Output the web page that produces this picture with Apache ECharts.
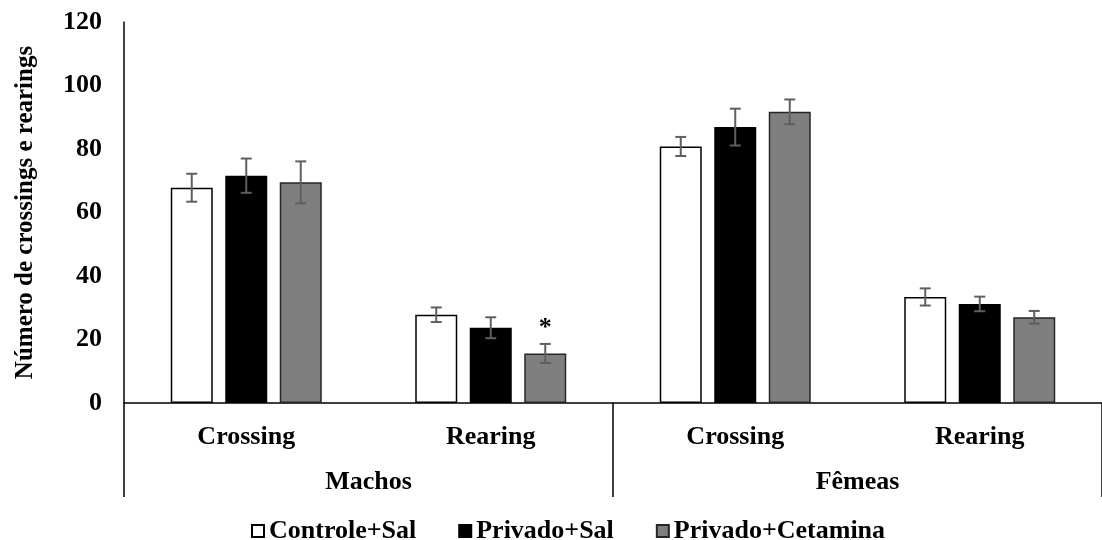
<!DOCTYPE html>
<html>
<head>
<meta charset="utf-8">
<script src="https://cdn.jsdelivr.net/npm/echarts@6/dist/echarts.min.js"></script>
<style>
html,body{margin:0;padding:0;background:#fff;}
#chart{width:1102px;height:540px;}
</style>
</head>
<body>
<div id="chart"></div>
<script>
const categories = ['Crossing', 'Rearing', 'Crossing', 'Rearing'];
const groups = ['Machos', 'Fêmeas'];
const seriesNames = ['Controle+Sal', 'Privado+Sal', 'Privado+Cetamina'];

const controleSal = [67.8, 27.8, 80.8, 33.4];
const controleSalErr = [4.4, 2.3, 3.0, 2.7];
const privadoSal = [71.6, 23.7, 86.9, 31.2];
const privadoSalErr = [5.4, 3.3, 5.8, 2.3];
const privadoCetamina = [69.5, 15.6, 91.7, 27.0];
const privadoCetaminaErr = [6.6, 3.0, 3.9, 2.0];
const privadoCetaminaSig = ['', '*', '', ''];

const yTicks = { min: 0, max: 120, interval: 20 };
const yAxisName = 'Número de crossings e rearings';

const FONT = '"Liberation Serif", "Times New Roman", serif';
const FS = 26;
const BAR_W = 42;
const BAR_GAP = 12.5;

const means = [controleSal, privadoSal, privadoCetamina];
const errs = [controleSalErr, privadoSalErr, privadoCetaminaErr];
const fills = ['#ffffff', '#000000', '#7f7f7f'];
const borders = ['#000000', '#000000', '#262626'];

const chart = echarts.init(document.getElementById('chart'), null, { renderer: 'canvas' });

const barSeries = means.map((vals, i) => ({
  name: seriesNames[i],
  type: 'bar',
  xAxisIndex: 0,
  barWidth: BAR_W,
  barGap: (BAR_GAP / BAR_W * 100) + '%',
  itemStyle: { color: fills[i], borderColor: borders[i], borderWidth: 1.5 },
  emphasis: { disabled: true },
  data: vals.map((v, j) => {
    const sig = i === 2 ? privadoCetaminaSig[j] : '';
    if (!sig) return v;
    return {
      value: v,
      label: {
        show: true, position: 'top', distance: 12, formatter: sig,
        fontFamily: FONT, fontWeight: 'bold', fontSize: FS, color: '#000'
      }
    };
  }),
  z: 2
}));

const errSeries = means.map((vals, i) => ({
  name: 'err' + i,
  type: 'custom',
  xAxisIndex: 0,
  z: 5,
  silent: true,
  data: vals.map((v, j) => [j, v, errs[i][j]]),
  renderItem: function (params, api) {
    const c = api.value(0), m = api.value(1), e = api.value(2);
    const top = api.coord([c, m + e]);
    const bot = api.coord([c, m - e]);
    const x = top[0] + (i - 1) * (BAR_W + BAR_GAP);
    const cap = 5.5;
    const style = { stroke: '#5f5f5f', lineWidth: 2 };
    return {
      type: 'group',
      children: [
        { type: 'line', shape: { x1: x, y1: top[1], x2: x, y2: bot[1] }, style },
        { type: 'line', shape: { x1: x - cap, y1: top[1], x2: x + cap, y2: top[1] }, style },
        { type: 'line', shape: { x1: x - cap, y1: bot[1], x2: x + cap, y2: bot[1] }, style }
      ]
    };
  }
}));

const option = {
  animation: false,
  backgroundColor: '#ffffff',
  grid: { left: 124, right: -2, top: 22, bottom: 137, containLabel: false },
  legend: {
    data: seriesNames,
    top: 513,
    left: 246,
    icon: 'rect',
    itemWidth: 12,
    itemHeight: 12,
    itemGap: 42,
    textStyle: { fontFamily: FONT, fontWeight: 'bold', fontSize: FS, color: '#000' },
    selectedMode: false
  },
  xAxis: [
    {
      type: 'category',
      data: categories,
      position: 'bottom',
      axisLine: { show: true, lineStyle: { color: '#000', width: 1.5 } },
      axisTick: { show: false },
      axisLabel: { interval: 0, margin: 21, fontFamily: FONT, fontWeight: 'bold', fontSize: FS, color: '#000' },
      splitLine: { show: false }
    },
    {
      type: 'category',
      data: groups,
      position: 'bottom',
      axisLine: { show: false },
      axisTick: { show: true, interval: 0, length: 94, lineStyle: { color: '#000', width: 1.5 } },
      axisLabel: { interval: 0, margin: 66, fontFamily: FONT, fontWeight: 'bold', fontSize: FS, color: '#000' },
      splitLine: { show: false }
    }
  ],
  yAxis: {
    type: 'value',
    min: yTicks.min,
    max: yTicks.max,
    interval: yTicks.interval,
    name: yAxisName,
    nameLocation: 'middle',
    nameGap: 86,
    nameRotate: 90,
    nameTextStyle: { fontFamily: FONT, fontWeight: 'bold', fontSize: 25, color: '#000' },
    axisLine: { show: true, lineStyle: { color: '#000', width: 1.5 } },
    axisTick: { show: false },
    splitLine: { show: false },
    axisLabel: { margin: 22, fontFamily: FONT, fontWeight: 'bold', fontSize: FS, color: '#000' }
  },
  series: barSeries.concat(errSeries)
};

chart.setOption(option);
</script>
</body>
</html>
